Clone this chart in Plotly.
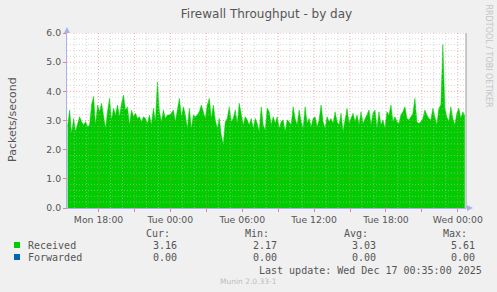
import plotly.graph_objects as go
import pandas as pd

# ---------------- data ----------------
title_text = "Firewall Throughput - by day"
y_axis_label = "Packets/second"
start_time = "2025-12-15 15:25"
step = "10min"

received = [
    2.78, 3.36, 2.56, 3.07, 2.62, 2.85, 3.13, 2.96, 2.85, 2.96,
    2.79, 2.85, 3.53, 3.82, 2.85, 3.53, 3.30, 3.59, 3.07, 2.73,
    3.30, 3.76, 3.02, 3.42, 3.19, 3.53, 3.13, 3.59, 3.87, 3.36,
    3.47, 2.85, 3.36, 3.13, 3.25, 3.07, 3.13, 2.96, 3.13, 3.07,
    2.90, 3.19, 2.85, 3.42, 2.95, 4.32, 3.30, 2.96, 3.36, 3.07,
    3.19, 3.19, 3.25, 3.36, 2.96, 3.36, 3.76, 3.13, 3.47, 3.19,
    2.73, 3.42, 2.73, 3.19, 3.13, 3.19, 3.30, 3.53, 3.25, 3.07,
    3.53, 3.76, 3.07, 3.53, 3.02, 2.73, 3.07, 2.50, 2.17, 2.96,
    3.07, 3.47, 2.96, 3.07, 3.36, 2.90, 3.59, 3.19, 2.85, 3.13,
    3.02, 2.85, 3.07, 2.73, 3.07, 2.90, 2.62, 3.47, 2.85, 2.67,
    3.42, 3.30, 2.85, 3.13, 2.90, 3.13, 2.73, 2.96, 3.02, 2.62,
    3.02, 2.96, 2.85, 3.47, 3.07, 2.85, 3.36, 2.96, 2.73, 3.47,
    2.90, 3.07, 2.79, 3.07, 3.13, 2.79, 3.02, 3.53, 2.96, 2.73,
    3.13, 2.96, 3.07, 2.90, 3.30, 2.96, 2.85, 3.25, 2.62, 3.02,
    3.42, 2.90, 3.07, 3.25, 2.96, 3.19, 2.85, 3.30, 2.90, 3.07,
    3.19, 3.36, 2.85, 3.25, 3.36, 2.73, 3.30, 2.85, 3.02, 2.73,
    3.30, 3.19, 3.53, 2.96, 3.13, 2.96, 2.90, 3.19, 3.30, 3.47,
    3.07, 3.02, 3.13, 3.25, 3.76, 2.96, 2.90, 2.96, 3.07, 3.36,
    3.19, 3.07, 3.02, 3.42, 3.13, 2.85, 3.42, 3.53, 5.61, 3.42,
    3.13, 2.96, 3.47, 3.07, 2.85, 3.25, 3.42, 3.07, 3.30, 3.16,
]

x_range = ["2025-12-15 15:22", "2025-12-17 00:41"]
x_tick_vals = ["2025-12-15 18:00", "2025-12-15 21:00", "2025-12-16 00:00",
               "2025-12-16 03:00", "2025-12-16 06:00", "2025-12-16 09:00",
               "2025-12-16 12:00", "2025-12-16 15:00", "2025-12-16 18:00",
               "2025-12-16 21:00", "2025-12-17 00:00"]
x_tick_text = ["Mon 18:00", "", "Tue 00:00", "", "Tue 06:00", "",
               "Tue 12:00", "", "Tue 18:00", "", "Wed 00:00"]
y_range = [0, 6.0]
y_tick_vals = [0, 1, 2, 3, 4, 5, 6]

legend_names = ["Received", "Forwarded"]
legend_colors = ["#00CC00", "#0066B3"]
stat_headers = ["Cur:", "Min:", "Avg:", "Max:"]
received_stats = ["3.16", "2.17", "3.03", "5.61"]
forwarded_stats = ["0.00", "0.00", "0.00", "0.00"]
last_update = "Last update: Wed Dec 17 00:35:00 2025"
munin_version = "Munin 2.0.33-1"
watermark = "RRDTOOL / TOBI OETIKER"

# ---------------- layout geometry ----------------
W, H = 497, 292
L, R, T, B = 67, 466, 33, 208


def fx(px):
    return (px - L) / (R - L)


def fy(py):
    return (B - py) / (B - T)


times = pd.date_range(start_time, periods=len(received), freq=step)

fig = go.Figure()
fig.add_trace(go.Scatter(
    x=times, y=received, mode="lines",
    line=dict(width=0.5, color=legend_colors[0]),
    fill="tozeroy", fillcolor=legend_colors[0],
    hoverinfo="skip", showlegend=False,
))

shapes = []
grid_red = "rgba(240,120,120,0.6)"
grid_gray = "rgba(190,190,190,0.6)"
dot = "1px,2px"

# vertical grid lines
minor_times = pd.date_range("2025-12-15 16:00", "2025-12-17 00:00", freq="1h")
major_set = set(pd.to_datetime(x_tick_vals))
for t in minor_times:
    is_major = t in major_set
    shapes.append(dict(type="line", xref="x", yref="paper", x0=t, x1=t, y0=0, y1=1,
                       line=dict(color=grid_red if is_major else grid_gray, width=1, dash=dot),
                       layer="above"))
# horizontal grid lines
for i in range(1, 31):
    v = i * 0.2
    is_major = (i % 5 == 0)
    shapes.append(dict(type="line", xref="paper", yref="y", x0=0, x1=1, y0=v, y1=v,
                       line=dict(color=grid_red if is_major else grid_gray, width=1, dash=dot),
                       layer="above"))

axis_color = "#A8B0F0"
# arrows
shapes.append(dict(type="path", xref="paper", yref="paper", xsizemode="pixel", ysizemode="pixel",
                   xanchor=0, yanchor=1, path="M -3,0 L 3,0 L 0,6 Z",
                   fillcolor=axis_color, line=dict(width=0), layer="above"))
shapes.append(dict(type="path", xref="paper", yref="paper", xsizemode="pixel", ysizemode="pixel",
                   xanchor=1, yanchor=0, path="M 1,-3 L 1,3 L 7,0 Z",
                   fillcolor=axis_color, line=dict(width=0), layer="above"))
shapes.append(dict(type="line", xref="paper", yref="paper", x0=1, x1=fx(468), y0=0, y1=0,
                   line=dict(color=axis_color, width=1), layer="above"))
# right border
shapes.append(dict(type="line", xref="paper", yref="paper", x0=1, x1=1, y0=0, y1=1,
                   line=dict(color="#9A9A9A", width=1), layer="above"))

# legend squares
for k, c in enumerate(legend_colors):
    yc = 245 + 12 * k
    shapes.append(dict(type="rect", xref="paper", yref="paper",
                       x0=fx(14), x1=fx(20), y0=fy(yc - 3), y1=fy(yc + 3),
                       fillcolor=c, line=dict(width=0)))

mono = "DejaVu Sans Mono"
txt = "#555555"
ann = []
ann.append(dict(text=y_axis_label, x=fx(12), y=fy(120), xref="paper", yref="paper",
                textangle=-90, showarrow=False, xanchor="center", yanchor="middle",
                font=dict(family="DejaVu Sans", size=11, color=txt)))
ann.append(dict(text=watermark, x=fx(488.5), y=fy(56), xref="paper", yref="paper",
                textangle=90, showarrow=False, xanchor="center", yanchor="middle",
                font=dict(family="DejaVu Sans", size=8, color="#C4C4C4")))

header_right = [172, 271, 370, 469]
value_right = [179, 279, 378, 477]
for h, xr in zip(stat_headers, header_right):
    ann.append(dict(text=h, x=fx(xr), y=fy(233), xref="paper", yref="paper",
                    showarrow=False, xanchor="right", yanchor="middle",
                    font=dict(family=mono, size=10, color=txt)))
for k, (name, stats) in enumerate(zip(legend_names, [received_stats, forwarded_stats])):
    yc = 245 + 12 * k
    ann.append(dict(text=name, x=fx(26), y=fy(yc), xref="paper", yref="paper",
                    showarrow=False, xanchor="left", yanchor="middle",
                    font=dict(family=mono, size=10, color=txt)))
    for s, xr in zip(stats, value_right):
        ann.append(dict(text=s, x=fx(xr), y=fy(yc), xref="paper", yref="paper",
                        showarrow=False, xanchor="right", yanchor="middle",
                        font=dict(family=mono, size=10, color=txt)))
ann.append(dict(text=last_update, x=fx(484), y=fy(270), xref="paper", yref="paper",
                showarrow=False, xanchor="right", yanchor="middle",
                font=dict(family=mono, size=10, color=txt)))
ann.append(dict(text=munin_version, x=fx(248.5), y=fy(281), xref="paper", yref="paper",
                showarrow=False, xanchor="center", yanchor="middle",
                font=dict(family="DejaVu Sans", size=7.5, color="#BDBDBD")))

fig.update_layout(
    width=W, height=H,
    margin=dict(l=L, r=W - R, t=T, b=H - B, pad=0),
    paper_bgcolor="#F0F0F0", plot_bgcolor="#FFFFFF",
    title=dict(text=title_text, x=0.5, xref="paper", xanchor="center",
               y=1 - 14 / H, yref="container", yanchor="middle",
               font=dict(family="DejaVu Sans", size=12, color="#555555")),
    showlegend=False,
    shapes=shapes, annotations=ann,
    xaxis=dict(type="date", range=x_range, tickvals=x_tick_vals, ticktext=x_tick_text,
               showgrid=False, zeroline=False, showline=True, linecolor=axis_color, linewidth=1,
               ticks="outside", ticklen=3, tickcolor="#F08080", layer="above traces",
               tickfont=dict(family="DejaVu Sans", size=9.3, color=txt), fixedrange=True),
    yaxis=dict(range=y_range, tickvals=y_tick_vals, tickformat=".1f",
               showgrid=False, zeroline=False, showline=True, linecolor=axis_color, linewidth=1,
               ticks="outside", ticklen=3, tickcolor="#F08080", layer="above traces",
               tickfont=dict(family="DejaVu Sans", size=9.3, color=txt), fixedrange=True),
)

fig.write_html("out.html")
